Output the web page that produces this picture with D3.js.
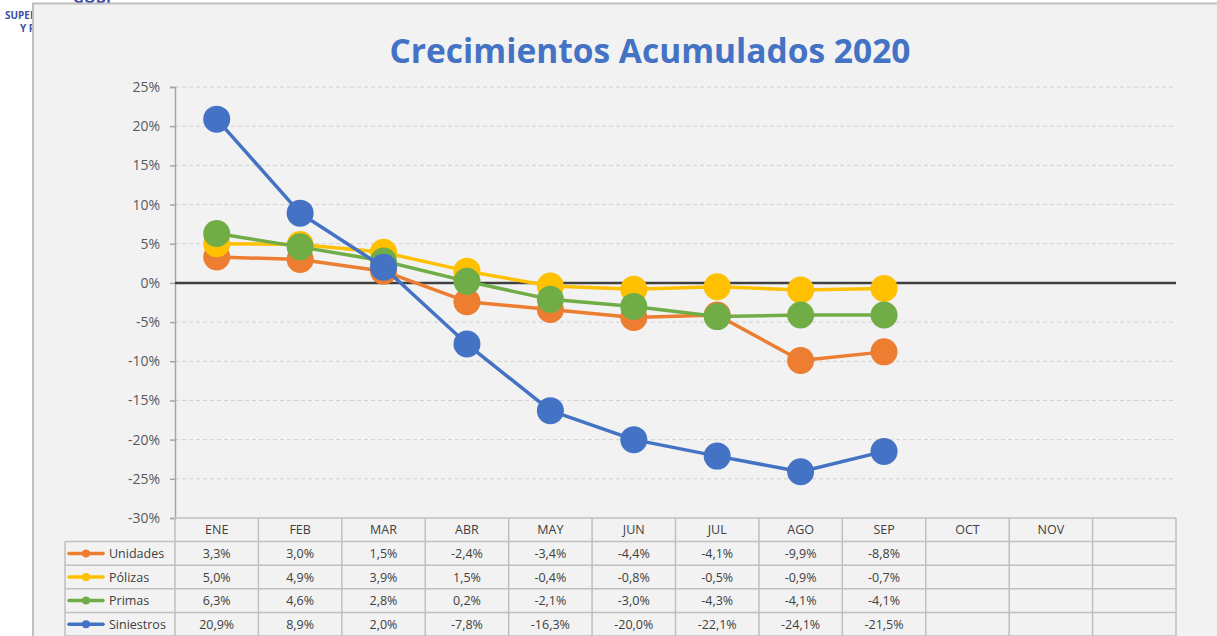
<!DOCTYPE html>
<html>
<head>
<meta charset="utf-8">
<script src="https://cdn.jsdelivr.net/npm/d3@7"></script>
<style type="text/css">
	body { margin: 0; background-color: #ffffff; }
	svg text { font-family: 'Open Sans', 'Noto Sans', sans-serif; }
	.tick text { fill: #595959; font-size: 14px; }
	.celda { fill: #404040; font-size: 12.5px; }
</style>
</head>
<body>
<svg id="grafico" width="1217" height="636"></svg>
<script type="text/javascript">

	// datos
	var meses = ["ENE", "FEB", "MAR", "ABR", "MAY", "JUN", "JUL", "AGO", "SEP", "OCT", "NOV", ""];
	var seriesNombres = ["Unidades", "Pólizas", "Primas", "Siniestros"];
	var seriesColores = ["#ed7d31", "#ffc000", "#70ad47", "#4472c4"];
	var unidades   = [3.3, 3.0, 1.5, -2.4, -3.4, -4.4, -4.1, -9.9, -8.8];
	var polizas    = [5.0, 4.9, 3.9, 1.5, -0.4, -0.8, -0.5, -0.9, -0.7];
	var primas     = [6.3, 4.6, 2.8, 0.2, -2.1, -3.0, -4.3, -4.1, -4.1];
	var siniestros = [20.9, 8.9, 2.0, -7.8, -16.3, -20.0, -22.1, -24.1, -21.5];
	var yTicks = [25, 20, 15, 10, 5, 0, -5, -10, -15, -20, -25, -30];

	var valores = [unidades, polizas, primas, siniestros];

	var svg = d3.select("#grafico");

	// texto del fondo (logo cortado)
	svg.append("text").attr("x", 73).attr("y", 3).text("GOBI")
		.style("font-size", "15px").style("font-weight", "bold").style("fill", "#3d4fa6");
	svg.append("text").attr("x", 5).attr("y", 19).text("SUPERINTENDENCIA")
		.style("font-size", "10px").style("font-weight", "bold").style("fill", "#3d4fa6");
	svg.append("text").attr("x", 20).attr("y", 32).text("Y PENSIONES")
		.style("font-size", "10px").style("font-weight", "bold").style("fill", "#3d4fa6");

	// area del grafico
	svg.append("rect")
		.attr("x", 33).attr("y", 3.5).attr("width", 1200).attr("height", 650)
		.style("fill", "#f2f2f2").style("stroke", "#bfbfbf").style("stroke-width", 2);

	svg.append("text")
		.attr("x", 650).attr("y", 63)
		.attr("text-anchor", "middle")
		.style("font-size", "33.5px").style("font-weight", "bold").style("fill", "#4472c4")
		.text("Crecimientos Acumulados 2020");

	var x = d3.scaleBand().domain(d3.range(meses.length)).range([175, 1176]);
	var y = d3.scaleLinear().domain([-30, 25]).range([518, 87]);

	// lineas de cuadricula
	svg.append("g").selectAll("line").data(yTicks.filter(t => t != 0 && t != -30)).enter()
		.append("line")
		.attr("x1", 175).attr("x2", 1176)
		.attr("y1", d => y(d)).attr("y2", d => y(d))
		.style("stroke", "#d0d0d0").style("stroke-width", 1).style("stroke-dasharray", "4,3");

	// eje y
	var ejeY = svg.append("g")
		.attr("transform", "translate(175,0)")
		.call(d3.axisLeft(y).tickValues(yTicks).tickFormat(d => d + "%").tickSize(5).tickPadding(10));
	ejeY.select(".domain").style("stroke", "#a6a6a6").style("stroke-width", 1.5);
	ejeY.selectAll(".tick line").style("stroke", "#a6a6a6").style("stroke-width", 1.5);

	// linea del cero
	svg.append("line")
		.attr("x1", 175).attr("x2", 1176)
		.attr("y1", y(0)).attr("y2", y(0))
		.style("stroke", "#404040").style("stroke-width", 2.5);

	// tabla de datos
	var tabla = svg.append("g");
	var filaAlto = 23.6;
	var yTabla = y(-30);
	var bordes = "#bfbfbf";

	// lineas horizontales
	for (let i = 0; i <= 5; i++) {
		tabla.append("line")
			.attr("x1", i == 0 ? 175 : 65).attr("x2", 1176)
			.attr("y1", yTabla + i * filaAlto).attr("y2", yTabla + i * filaAlto)
			.style("stroke", bordes).style("stroke-width", 1.5);
	}
	// lineas verticales
	d3.range(meses.length + 1).forEach(i => {
		let xx = i < meses.length ? x(i) : x(meses.length - 1) + x.bandwidth();
		tabla.append("line")
			.attr("x1", xx).attr("x2", xx)
			.attr("y1", yTabla).attr("y2", 640)
			.style("stroke", bordes).style("stroke-width", 1.5);
	});
	tabla.append("line")
		.attr("x1", 65).attr("x2", 65)
		.attr("y1", yTabla + filaAlto).attr("y2", 640)
		.style("stroke", bordes).style("stroke-width", 1.5);

	// encabezados
	tabla.selectAll("text.mes").data(meses).enter()
		.append("text").attr("class", "celda mes")
		.attr("x", (d, i) => x(i) + x.bandwidth() / 2)
		.attr("y", yTabla + filaAlto / 2 + 4.5)
		.attr("text-anchor", "middle")
		.text(d => d);

	var localeEs = d3.formatLocale({decimal: ",", thousands: ".", grouping: [3], currency: ["", "€"], minus: "-"});
	var fmt = d => localeEs.format(".1f")(d) + "%";

	valores.forEach((serie, s) => {
		let fy = yTabla + (s + 1) * filaAlto;
		// leyenda
		tabla.append("line")
			.attr("x1", 69).attr("x2", 103)
			.attr("y1", fy + filaAlto / 2).attr("y2", fy + filaAlto / 2)
			.style("stroke", seriesColores[s]).style("stroke-width", 3.5).style("stroke-linecap", "round");
		tabla.append("circle")
			.attr("cx", 86).attr("cy", fy + filaAlto / 2).attr("r", 4)
			.style("fill", seriesColores[s]);
		tabla.append("text").attr("class", "celda")
			.attr("x", 109).attr("y", fy + filaAlto / 2 + 4.5)
			.text(seriesNombres[s]);
		tabla.selectAll(null).data(serie).enter()
			.append("text").attr("class", "celda")
			.attr("x", (d, i) => x(i) + x.bandwidth() / 2)
			.attr("y", fy + filaAlto / 2 + 4.5)
			.attr("text-anchor", "middle")
			.text(d => fmt(d));
	});

	// series
	var linea = d3.line()
		.x((d, i) => x(i) + x.bandwidth() / 2)
		.y(d => y(d));

	valores.forEach((serie, s) => {
		let g = svg.append("g");
		g.append("path")
			.datum(serie)
			.attr("d", linea)
			.style("fill", "none")
			.style("stroke", seriesColores[s])
			.style("stroke-width", 3.5)
			.style("stroke-linejoin", "round");
		g.selectAll("circle").data(serie).enter()
			.append("circle")
			.attr("cx", (d, i) => x(i) + x.bandwidth() / 2)
			.attr("cy", d => y(d))
			.attr("r", 13.5)
			.style("fill", seriesColores[s]);
	});

</script>
</body>
</html>
